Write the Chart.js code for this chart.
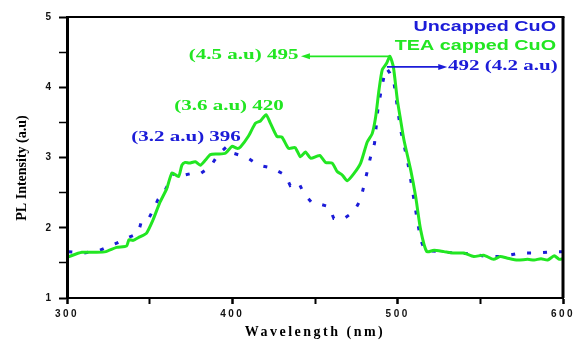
<!DOCTYPE html>
<html lang="en">
  <head>
    <meta charset="UTF-8" />
    <title>PL spectra CuO</title>
    <script src="https://cdn.jsdelivr.net/npm/chart.js"></script>
    <style>
      body {
        margin: 0;
        background: #ffffff;
      }
      #plChart {
        display: block;
      }
    </style>
  </head>
  <body>
    <canvas id="plChart" width="582" height="342"></canvas>

    <script>
      // TEA capped CuO (solid green)
      const teaWavelength = [
        300, 309, 318, 323.5, 330, 336, 337.5, 340, 344, 348, 352, 356, 360.4,
        363.5, 367.5, 369.5, 371.5, 374, 377.6, 380.6, 383.6, 386.7, 390.7,
        395.8, 399.8, 402.8, 404.9, 409.9, 414, 417, 420.4, 423, 427, 430, 434,
        438, 441.2, 444.2, 447.3, 451.3, 453, 456.4, 460.4, 463.4, 466.5, 469.5,
        473.5, 477.6, 481.6, 484.6, 486.7, 488.7, 490.7, 493.3, 495.3, 497.4,
        499.8, 501.8, 503.8, 507.9, 510.9, 513.9, 517.6, 522, 528, 534, 540,
        546, 552, 558, 562, 566, 572.5, 578.6, 582.6, 586.7, 590.7, 594.7,
        597.8, 600,
      ];
      const teaIntensity = [
        1.58, 1.65, 1.65, 1.66, 1.72, 1.74, 1.83, 1.82, 1.87, 1.92, 2.11, 2.35,
        2.56, 2.78, 2.73, 2.89, 2.93, 2.92, 2.94, 2.89, 2.96, 3.04, 3.05, 3.06,
        3.16, 3.13, 3.15, 3.31, 3.49, 3.52, 3.61, 3.49, 3.3, 3.29, 3.13, 3.14,
        3.01, 3.08, 2.99, 3.02, 3.03, 2.93, 2.92, 2.8, 2.75, 2.67, 2.77, 2.92,
        3.22, 3.34, 3.58, 3.96, 4.25, 4.34, 4.44, 4.29, 3.82, 3.53, 3.25, 2.82,
        2.44, 1.97, 1.66, 1.68, 1.66, 1.64, 1.64, 1.59, 1.61, 1.55, 1.59, 1.57,
        1.54, 1.55, 1.54, 1.56, 1.54, 1.6, 1.55, 1.56,
      ];

      // Uncapped CuO (blue dotted)
      const uncappedWavelength = [
        300.8, 310, 320, 329, 337, 343, 345, 349, 352, 355, 358, 361, 363.5,
        367.5, 376.5, 380.6, 386.7, 391.7, 396.8, 400.8, 408.9, 416, 424, 432,
        435, 440, 443.2, 448.3, 452.3, 458.4, 461.4, 467.5, 473.5, 477.6, 480.6,
        483.6, 486, 488, 489.7, 491.7, 493.3, 495.3, 497.8, 499.8, 501.8, 505.9,
        508.9, 511.5, 513.9, 516.4, 525, 535, 545, 554, 564, 573.5, 584, 594,
        600,
      ];
      const uncappedIntensity = [
        1.66, 1.64, 1.68, 1.77, 1.86, 1.92, 2.09, 2.11, 2.25, 2.4, 2.47, 2.61,
        2.77, 2.73, 2.78, 2.77, 2.87, 3.05, 3.16, 3.06, 3.0, 2.89, 2.85, 2.75,
        2.6, 2.65, 2.49, 2.35, 2.34, 2.3, 2.13, 2.13, 2.23, 2.4, 2.7, 3.01, 3.2,
        3.68, 3.91, 4.15, 4.27, 4.2, 4.06, 3.72, 3.39, 2.96, 2.54, 2.16, 1.83,
        1.68, 1.66, 1.64, 1.63, 1.59, 1.59, 1.64, 1.64, 1.66, 1.66,
      ];

      const GREEN = "#22e622";
      const BLUE = "#1c1cd8";

      // peak labels, anchored in data units
      const peakNotes = [
        { text: "(4.5 a.u) 495", x: 440, y: 4.46, align: "right", color: GREEN },
        { text: "492 (4.2 a.u)", x: 530.5, y: 4.29, align: "left", color: BLUE },
        { text: "(3.6 a.u) 420", x: 398, y: 3.73, align: "center", color: GREEN },
        { text: "(3.2 a.u) 396", x: 372, y: 3.29, align: "center", color: BLUE },
      ];
      // arrows: from -> to (head at "to")
      const peakArrows = [
        { from: [495.5, 4.44], to: [441.5, 4.44], color: GREEN },
        { from: [493.5, 4.29], to: [530, 4.29], color: BLUE },
      ];

      const toPoints = (xs, ys) => xs.map((x, i) => ({ x, y: ys[i] }));

      function wideText(ctx, text, x, y, align, sx) {
        ctx.save();
        ctx.translate(x, y);
        ctx.scale(sx, 1);
        ctx.textAlign = align;
        ctx.textBaseline = "middle";
        ctx.fillText(text, 0, 0);
        ctx.restore();
      }

      const decorations = {
        id: "decorations",
        beforeDraw(chart) {
          const ctx = chart.ctx;
          ctx.save();
          ctx.fillStyle = "#ffffff";
          ctx.fillRect(0, 0, chart.width, chart.height);
          ctx.restore();
          // stretched-looking x axis text
          ctx.letterSpacing = "2.5px";
        },
        afterDatasetsDraw(chart) {
          chart.ctx.letterSpacing = "0px";
        },
        afterDraw(chart) {
          const ctx = chart.ctx;
          const { left, right, top } = chart.chartArea;
          const xs = chart.scales.x;
          const ys = chart.scales.y;
          ctx.save();
          ctx.letterSpacing = "0px";

          // frame top / right
          ctx.strokeStyle = "#000";
          ctx.lineWidth = 2;
          ctx.beginPath();
          ctx.moveTo(left, top);
          ctx.lineTo(right + 1.5, top);
          ctx.stroke();
          ctx.lineWidth = 3;
          ctx.beginPath();
          ctx.moveTo(right, top);
          ctx.lineTo(right, chart.chartArea.bottom);
          ctx.stroke();

          // cropped text line from the page above the figure
          ctx.fillStyle = "#000";
          ctx.font = "bold 18px 'Liberation Serif'";
          ctx.save();
          ctx.translate(20, -4);
          ctx.scale(1.4, 1);
          ctx.textAlign = "left";
          ctx.textBaseline = "alphabetic";
          ctx.fillText("properly", 0, 0);
          ctx.restore();

          // arrows
          peakArrows.forEach((a) => {
            const x1 = xs.getPixelForValue(a.from[0]);
            const y1 = ys.getPixelForValue(a.from[1]);
            const x2 = xs.getPixelForValue(a.to[0]);
            const y2 = ys.getPixelForValue(a.to[1]);
            const dir = Math.sign(x2 - x1);
            ctx.strokeStyle = a.color;
            ctx.fillStyle = a.color;
            ctx.lineWidth = 1.6;
            ctx.beginPath();
            ctx.moveTo(x1, y1);
            ctx.lineTo(x2 - dir * 6, y2);
            ctx.stroke();
            ctx.beginPath();
            ctx.moveTo(x2, y2);
            ctx.lineTo(x2 - dir * 9, y2 - 3);
            ctx.lineTo(x2 - dir * 9, y2 + 3);
            ctx.closePath();
            ctx.fill();
          });

          // peak labels
          ctx.font = "bold 14px 'Liberation Serif'";
          peakNotes.forEach((n) => {
            ctx.fillStyle = n.color;
            wideText(
              ctx,
              n.text,
              xs.getPixelForValue(n.x),
              ys.getPixelForValue(n.y),
              n.align,
              1.5
            );
          });

          // legend (text only, in series colours)
          ctx.font = "bold 14px 'Liberation Sans'";
          chart.data.datasets.forEach((ds, i) => {
            ctx.fillStyle = ds.borderColor;
            wideText(ctx, ds.label, right - 7, top + 10 + i * 19, "right", 1.41);
          });
          ctx.restore();
        },
      };

      new Chart(document.getElementById("plChart"), {
        type: "line",
        data: {
          datasets: [
            {
              label: "Uncapped CuO",
              data: toPoints(uncappedWavelength, uncappedIntensity),
              borderColor: BLUE,
              borderWidth: 3,
              borderDash: [4, 12],
              pointRadius: 0,
              tension: 0,
              order: 2,
            },
            {
              label: "TEA capped CuO",
              data: toPoints(teaWavelength, teaIntensity),
              borderColor: GREEN,
              borderWidth: 3,
              pointRadius: 0,
              tension: 0.2,
              order: 1,
            },
          ],
        },
        options: {
          responsive: false,
          animation: false,
          layout: { padding: { top: 17, right: 19, left: 0, bottom: 0 } },
          plugins: {
            legend: { display: false },
            tooltip: { enabled: false },
          },
          scales: {
            x: {
              type: "linear",
              min: 300,
              max: 600,
              ticks: {
                stepSize: 50,
                autoSkip: false,
                maxRotation: 0,
                padding: 4,
                color: "#111",
                font: { family: "Liberation Sans", weight: "bold", size: 10 },
                callback: (v) => (v % 100 === 0 ? v : ""),
              },
              grid: {
                drawOnChartArea: false,
                tickLength: 6,
                tickColor: "#000",
                tickWidth: (c) => (c.tick && c.tick.value % 100 === 0 ? 2.5 : 2),
              },
              border: { color: "#000", width: 2 },
              title: {
                display: true,
                text: "Wavelength (nm)",
                color: "#000",
                font: { family: "Liberation Serif", weight: "bold", size: 14 },
                padding: { top: 0, bottom: 1 },
              },
              afterFit: (s) => {
                s.height = 44;
              },
            },
            y: {
              min: 1,
              max: 5,
              ticks: {
                stepSize: 0.5,
                autoSkip: false,
                padding: 8,
                z: 1,
                color: "#111",
                font: { family: "Liberation Sans", weight: "bold", size: 10 },
                callback: (v) => (Number.isInteger(v) ? v : ""),
              },
              grid: {
                drawOnChartArea: false,
                tickLength: 8,
                tickColor: "#000",
                z: 1,
                tickWidth: (c) => (c.tick && Number.isInteger(c.tick.value) ? 2 : 1.5),
              },
              border: { color: "#000", width: 3, z: 1 },
              title: {
                display: true,
                text: "PL Intensity (a.u)      ",
                color: "#000",
                font: { family: "Liberation Serif", weight: "bold", size: 14 },
                padding: { top: 14, bottom: 0 },
              },
              afterFit: (s) => {
                s.width = 67;
              },
            },
          },
        },
        plugins: [decorations],
      });
    </script>
  </body>
</html>
